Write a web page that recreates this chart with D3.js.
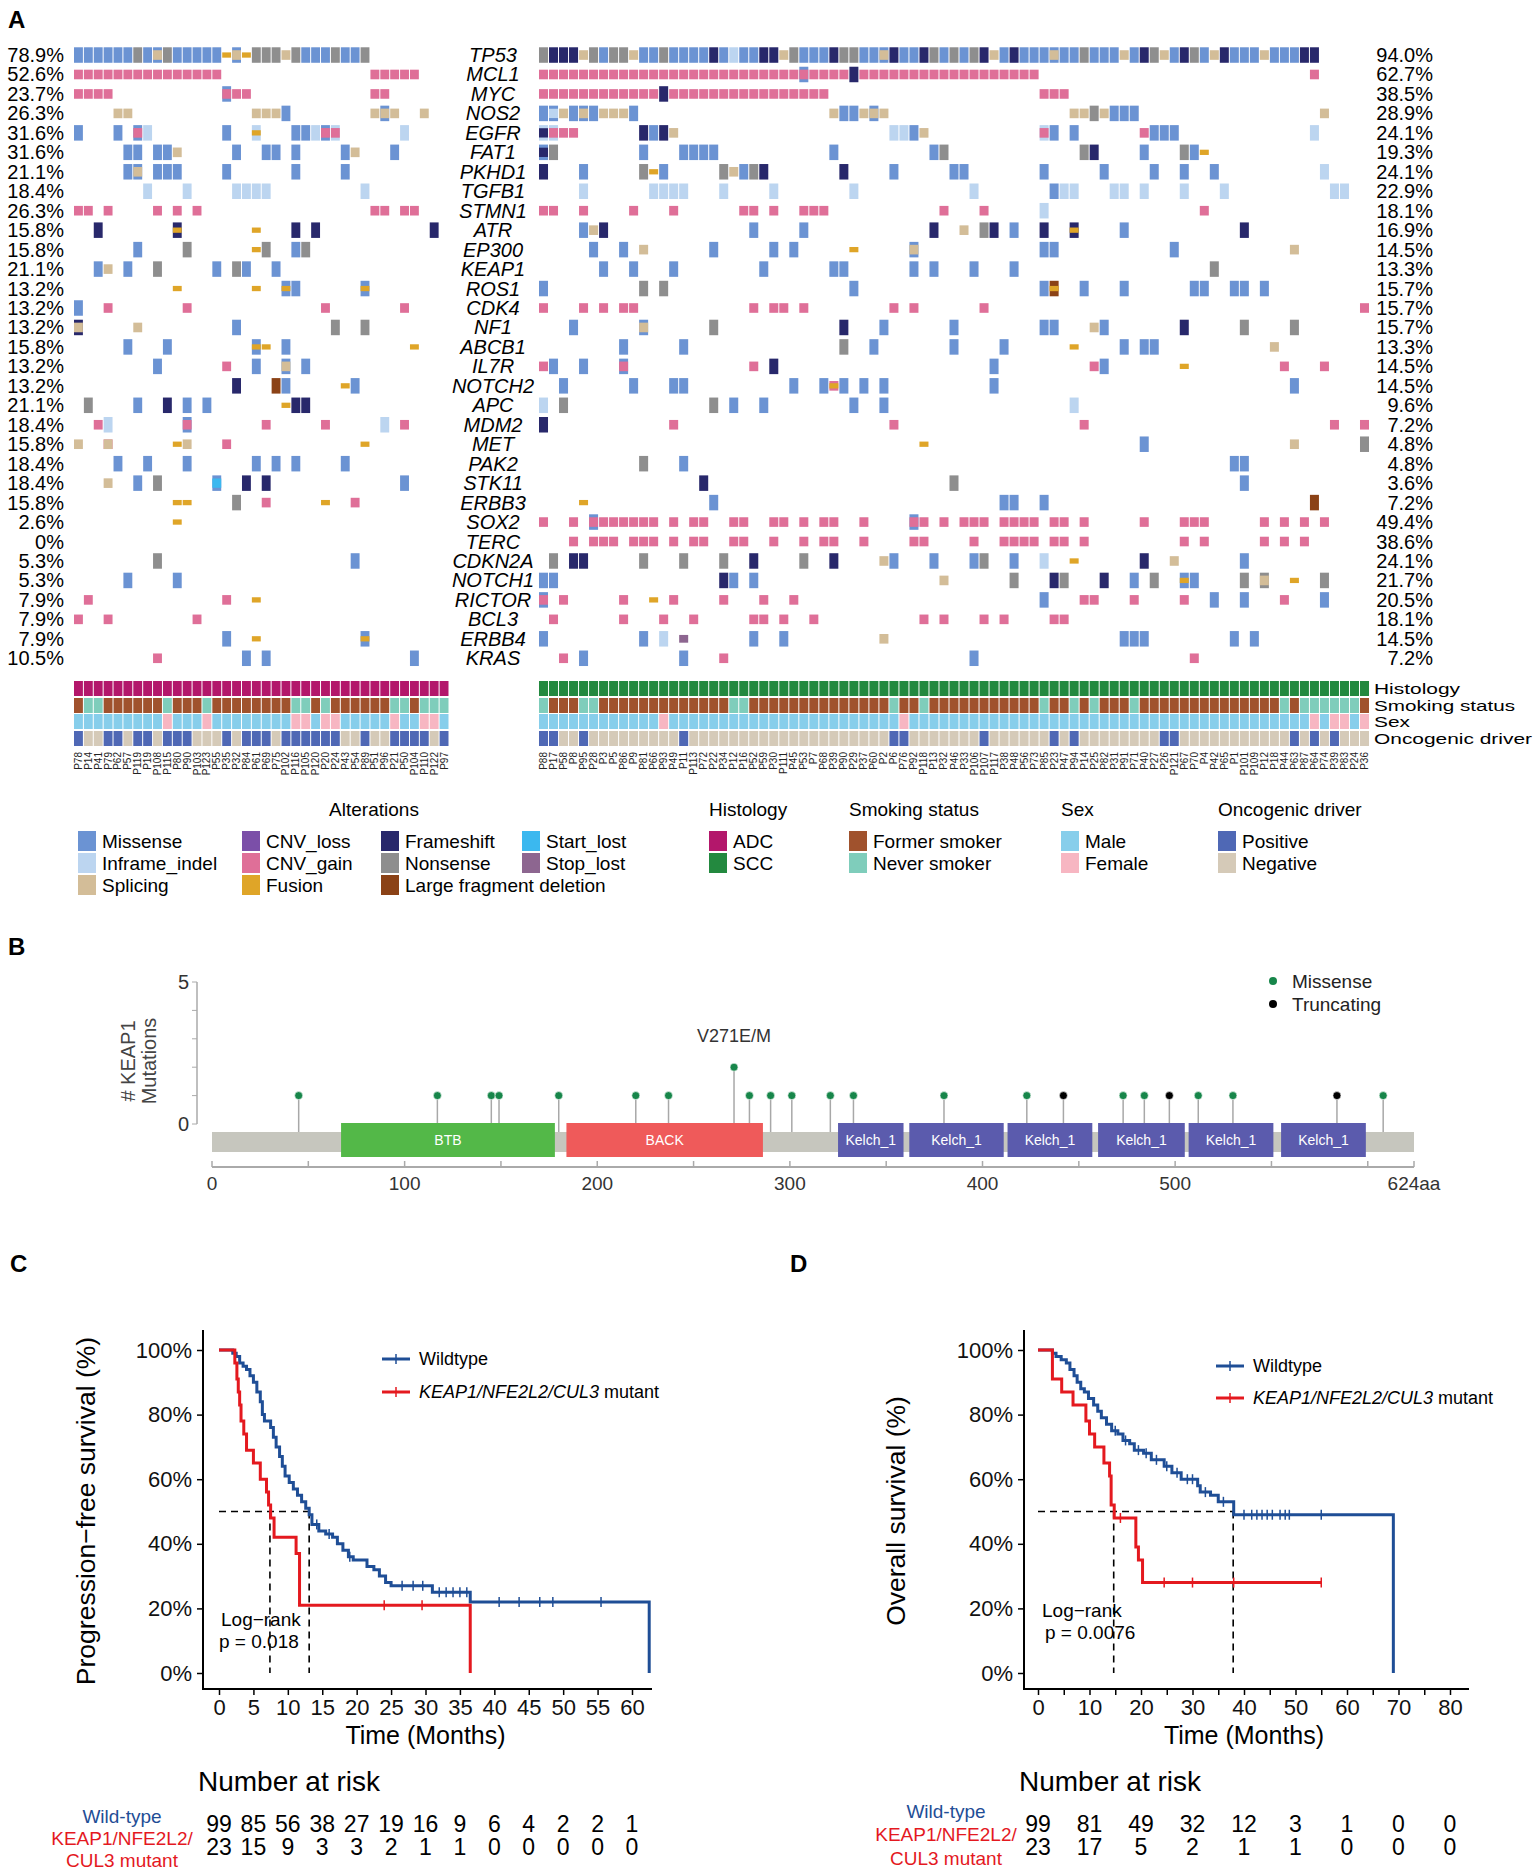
<!DOCTYPE html>
<html><head><meta charset="utf-8">
<script src="https://cdnjs.cloudflare.com/ajax/libs/d3/7.8.5/d3.min.js"></script>
<style>body{margin:0;background:#fff}svg text{font-family:"Liberation Sans",Arial,Helvetica,sans-serif}</style>
</head><body><svg id="chart" width="1535" height="1873"></svg>
<script>
// ---------------- DATA ----------------
const genes = ["TP53","MCL1","MYC","NOS2","EGFR","FAT1","PKHD1","TGFB1","STMN1","ATR","EP300","KEAP1","ROS1","CDK4","NF1","ABCB1","IL7R","NOTCH2","APC","MDM2","MET","PAK2","STK11","ERBB3","SOX2","TERC","CDKN2A","NOTCH1","RICTOR","BCL3","ERBB4","KRAS"];
const pctLeft = ["78.9%","52.6%","23.7%","26.3%","31.6%","31.6%","21.1%","18.4%","26.3%","15.8%","15.8%","21.1%","13.2%","13.2%","13.2%","15.8%","13.2%","13.2%","21.1%","18.4%","15.8%","18.4%","18.4%","15.8%","2.6%","0%","5.3%","5.3%","7.9%","7.9%","7.9%","10.5%"];
const pctRight = ["94.0%","62.7%","38.5%","28.9%","24.1%","19.3%","24.1%","22.9%","18.1%","16.9%","14.5%","13.3%","15.7%","15.7%","15.7%","13.3%","14.5%","14.5%","9.6%","7.2%","4.8%","4.8%","3.6%","7.2%","49.4%","38.6%","24.1%","21.7%","20.5%","18.1%","14.5%","7.2%"];

const leftPatients = ["P78","P14","P41","P79","P62","P57","P119","P19","P108","P115","P80","P90","P103","P123","P55","P35","P32","P84","P61","P69","P75","P102","P116","P105","P120","P20","P24","P43","P54","P89","P51","P96","P21","P50","P104","P110","P122","P97"];
const rightPatients = ["P88","P17","P58","P8","P95","P28","P3","P5","P86","P9","P81","P66","P93","P49","P11","P113","P72","P22","P34","P12","P16","P52","P59","P30","P111","P45","P53","P7","P68","P39","P90","P29","P37","P60","P2","P6","P76","P92","P118","P13","P32","P46","P33","P106","P107","P117","P38","P48","P56","P73","P85","P23","P47","P94","P14","P25","P82","P31","P91","P71","P40","P27","P26","P121","P67","P70","P4","P42","P65","P1","P101","P109","P12","P18","P44","P63","P87","P64","P74","P39","P83","P24","P36"];

// alteration codes: M Missense, I Inframe_indel, S Splicing, V CNV_loss, G CNV_gain, F Fusion,
// R Frameshift, N Nonsense, L Large fragment deletion, T Start_lost, P Stop_lost ; "a-bXY" = columns a..b
const altLeft = [
 "0-5M 6N 7M 8MS 9N 10-14M 15F 16MS 17F 18-20N 21S 22N 23-25M 26N 27-28M 29N",
 "0-14G 30-34G",
 "0-3G 15MG 16-17G 30-31G",
 "4-5S 18-20S 21M 30S 31MS 32S 35S",
 "0M 4M 6MG 7I 15M 18IF 22M 23M 24I 25MG 26IG 33I",
 "5-6M 8-9M 10S 16M 19-20M 22M 27M 28S 32M",
 "5M 6MS 8-10M 15M 22M 27M",
 "7I 11I 16-19I 29I",
 "0-1G 3G 8G 10G 12G 30-31G 33-34G",
 "2R 10RF 18F 22R 24R 36R",
 "6M 11N 18F 19N 22M 23N",
 "2M 3S 5M 8N 14M 16N 17M 20M",
 "10F 18F 21MF 22M 29MF",
 "0M 3G 11G 25G 33G",
 "0RS 6S 16M 26N 29N",
 "5M 9M 18MF 19F 21M 34F",
 "8M 15G 18M 21MS 23M",
 "16R 20L 21M 27F 28M",
 "1N 6M 9R 11M 13M 21F 22R 23R",
 "2G 3I 11MG 19G 25G 31I 33G",
 "0S 3GS 10F 11S 15G 29F",
 "4M 7M 11M 18M 20M 22M 27M",
 "3S 6M 8N 14MT 17R 19R 33M",
 "10F 11F 16N 19G 25F 28G",
 "10F",
 "",
 "8N 28M",
 "5M 10M",
 "1G 15G 18F",
 "0G 3G 12G",
 "15M 18F 29MF",
 "8G 17M 19M 34M"
];
const altRight = [
 "0N 1-3R 4S 5N 6M 7-8N 9S 10-11M 12N 13-16M 17R 18M 19I 20-21M 22-23R 24S 25N 26-28M 29R 30-31N 32-33M 34MS 35R 36-37M 38R 39N 40M 41N 42M 43N 44R 45S 46M 47R 48-50M 51MS 52-53M 54N 55-57M 58S 59M 60R 61N 62S 63M 64R 65N 66M 67S 68R 69-71M 72S 73-75M 76-77R",
 "0-25G 26MG 27-30G 31R 32-49G 77G",
 "0-11G 12R 13-28G 50-52G",
 "0M 1MI 2S 3M 4MS 5M 6-8S 9M 29S 30-31M 32S 33MS 34S 53-54S 55N 56S 57-59M 78S",
 "0IR 1IG 2-3G 10R 11M 12R 13S 35-36I 37M 38S 50IG 51M 53M 60G 61-63M 77I",
 "0MR 1N 10M 14-17M 29M 39M 40N 54N 55R 60M 64N 65M 66F",
 "0R 4M 10N 11F 12M 18N 19S 20M 21N 22R 30R 35M 41-42M 50M 56M 61M 64M 67M 78I",
 "4I 11-14I 18I 23I 31I 43I 51M 52-53I 57-58I 60I 64I 68I 79-80I",
 "0-1G 4G 9G 13G 20-21G 23G 26-28G 40G 44G 50I 66G",
 "4M 5S 6R 21M 26M 39R 42S 44N 45R 47M 50R 53RF 58M 70R",
 "5M 8M 10S 17M 23M 25M 31F 37MS 50-51M 63M 75S",
 "6M 9M 13M 22M 29-30M 37M 39M 43M 47M 67N",
 "0M 10N 12N 31M 50M 51LF 54M 58M 65-66M 69-70M 72M",
 "0G 4G 6G 8-9G 21G 23-24G 26G 35G 37G 44G 82G",
 "3M 10MS 17N 30R 34M 41M 50-51M 55S 56M 64R 70N 75N",
 "8M 14M 30N 33M 41M 46M 53F 58M 60-61M 73S",
 "0G 1M 4M 8MG 21G 23R 45M 55G 56M 64F 74G 78G",
 "2M 9M 13-14M 25M 28M 29GF 30M 32M 34M 45M 75M",
 "0I 2N 17N 19M 22M 31M 34M 53I",
 "0R 13G 35G 54G 79G 82G",
 "38F 60M 75S 82N",
 "10N 14M 69-70M",
 "16R 41N 70M",
 "4F 17M 46-47M 50M 77L",
 "0G 3G 5MG 6-11G 13G 15-16G 19-20G 23-24G 26G 28-29G 32G 37MG 38G 40G 42-44G 46-49G 51-52G 54G 60G 64-66G 72G 74G 76G 78G",
 "3G 5-7G 9-11G 13G 15-16G 19-20G 23G 26G 28-29G 32G 37-38G 43G 46-49G 51-52G 54G 64G 66G 72G 74G 76G",
 "1N 3-4R 10N 14N 18N 21R 26N 29R 34S 35M 39M 43M 44N 47M 50I 53F 60R 63S 70M",
 "0-1M 18R 19M 21M 40S 47N 51R 52N 56R 59M 61N 64MF 65M 70N 72NS 75F 78N",
 "0MG 2G 8G 11F 13G 18G 22G 25G 50M 54-55G 59G 64G 67M 70M 74G 78M",
 "1G 8G 12G 15G 21-22G 24G 27G 38G 40G 44G 46G 51-52G",
 "0M 10M 12I 14P 21M 24M 34S 58-60M 69M 71M",
 "2G 4M 14M 18G 43M 65G"
];

// clinical annotations (column indices)
const leftNever = [1,2,9,13,22,23,25,32,33,35,36,37];
const leftFemale = [9,13,22,23,25,26,32,35,36];
const leftPositive = [0,3,4,6,7,9,10,11,15,17,18,19,21,22,23,24,25,26,29,32,33,34,35,37];
const rightNever = [0,4,5,19,20,35,38,50,53,55,59,74,76,77,78,79,80,81];
const rightFemale = [12,36,77,79,80,82];
const rightPositive = [0,1,4,14,35,36,44,51,53,62,63,75,77,79];

// legend
const altNames = ["Missense","Inframe_indel","Splicing","CNV_loss","CNV_gain","Fusion","Frameshift","Nonsense","Large fragment deletion","Start_lost","Stop_lost"];
const altCodes = ["M","I","S","V","G","F","R","N","L","T","P"];
const annLabels = ["Histology","Smoking status","Sex","Oncogenic driver"];

// KEAP1 lollipop
const domainNames = ["BTB","BACK","Kelch_1","Kelch_1","Kelch_1","Kelch_1","Kelch_1","Kelch_1"];
const domainStart = [67,184,325,362,413,460,507,555];
const domainEnd = [178,286,359,411,457,505,551,599];
const mutPos = [45,117,145,149,180,220,237,271,279,290,301,321,333,380,423,442,473,484,497,512,530,584,608];
const mutCount = [1,1,1,1,1,1,1,2,1,1,1,1,1,1,1,1,1,1,1,1,1,1,1];
const mutClass = ["Missense","Missense","Missense","Missense","Missense","Missense","Missense","Missense","Missense","Missense","Missense","Missense","Missense","Missense","Missense","Truncating","Missense","Missense","Truncating","Missense","Missense","Truncating","Missense"];

// KM: progression-free survival
const pfsWildT = [0,2.0,2.5,3.0,3.5,4.0,4.5,5.0,5.5,6.0,6.3,6.6,7.5,7.9,8.3,8.8,9.2,9.6,10.2,10.8,11.4,12.0,12.6,13.1,13.5,14.5,15.5,16.5,17.2,18.0,18.8,19.5,21.5,22.5,23.3,24.2,25.0,31.0,36.5,62.5];
const pfsWildS = [100,99,98,96,95,94,92,90,87,84,80,78,76,73,70,67,64,61,59,57,55,53,51,49,46,44,43,42,40,38,36,35,33,32,30,28,27,25,22,0];
const pfsWildCensT = [14.2,16,19,26.6,28.2,29.6,32,33,34,35,36,40.7,43.6,46.6,48.5,55.5];
const pfsMutT = [0,2.3,2.6,2.8,3.0,3.2,3.6,4.0,5.0,6.0,6.9,7.2,7.5,8.0,11.2,11.7,36.5];
const pfsMutS = [100,96,91,87,83,78,74,69,65,60,56,52,48,42,37,21,0];
const pfsMutCensT = [24,29.5];
const pfsRiskT = [0,5,10,15,20,25,30,35,40,45,50,55,60];
const pfsRiskWild = [99,85,56,38,27,19,16,9,6,4,2,2,1];
const pfsRiskMut = [23,15,9,3,3,2,1,1,0,0,0,0,0];
const pfsMedians = [7.4,13.1];

// KM: overall survival
const osWildT = [0,2.8,3.5,4.5,5.5,6.2,7.0,7.6,8.3,9.0,9.8,10.8,11.6,12.3,13.3,14.3,15.5,16.5,17.8,18.7,20.5,22.0,24.5,26.0,27.8,31.0,31.5,33.5,35.0,38.0,69.0];
const osWildS = [100,99,98,97,96,94,92,90,88,87,85,83,81,79,77,75,74,72,71,69,68,66,64,62,60,58,56,55,53,49,0];
const osWildCensT = [15,17,19.5,21,23,25,27,29,30,32.5,36,40,41.5,42.5,43.5,44.5,45.5,47,48,48.8,55];
const osMutT = [0,2.8,4.6,6.8,9.3,10.0,11.0,12.8,13.9,14.2,14.8,19.0,19.5,20.3,55];
const osMutS = [100,91,87,83,78,74,70,65,61,52,48,39,35,28,28];
const osMutCensT = [16,24.5,30,38,55];
const osRiskT = [0,10,20,30,40,50,60,70,80];
const osRiskWild = [99,81,49,32,12,3,1,0,0];
const osRiskMut = [23,17,5,2,1,1,0,0,0];
const osMedians = [14.7,37.9];

// ---------------- STYLE ----------------
const altColor = {M:"#6b93d3",I:"#bcd5f0",S:"#d3bd98",V:"#7b4fa8",G:"#df6f98",F:"#dfa528",R:"#28286b",N:"#8e8e8e",L:"#8b4216",T:"#3bb8ef",P:"#8d6690"};
const altFrac = {M:1,I:1,S:0.62,V:0.62,G:0.62,F:0.34,R:1,N:1,L:1,T:1,P:0.5};
const annColors = {ADC:"#b3176b",SCC:"#23893f",Former:"#a0522d",Never:"#7fcdbb",Male:"#87ceeb",Female:"#f7b6c2",Pos:"#4f68b5",Neg:"#d5cab8"};
const BLUE = "#1f4e96", RED = "#e4191f";

const svg = d3.select("#chart");
svg.append("rect").attr("width",1535).attr("height",1873).attr("fill","#fff");

function parseRow(str, n) {
  const cells = Array.from({length:n}, () => []);
  if (!str) return cells;
  str.trim().split(/\s+/).forEach(tok => {
    const m = tok.match(/^(\d+)(?:-(\d+))?([A-Z]+)$/);
    if (!m) return;
    const a = +m[1], b = m[2] ? +m[2] : a;
    for (let c = a; c <= b; c++) if (c < n) cells[c] = m[3].split("");
  });
  return cells;
}

// ---------------- PANEL A ----------------
svg.append("text").attr("x",8).attr("y",28).attr("font-size",24).attr("font-weight","bold").text("A");
const yGene = d3.scaleBand().domain(genes).range([45.3, 668]);
const ROWH = 15.5;

function drawBlock(x0, x1, patients, rows, never, female, positive, histo) {
  const n = patients.length;
  const xs = d3.scaleBand().domain(d3.range(n)).range([x0, x1]).paddingInner(0.1);
  const g = svg.append("g");
  rows.forEach((r, gi) => {
    const cells = parseRow(r, n);
    const cy = yGene(genes[gi]) + yGene.bandwidth()/2;
    cells.forEach((codes, ci) => {
      codes.forEach((code, k) => {
        let h = ROWH * altFrac[code];
        if (k > 0 && altFrac[code] === 1) h = ROWH * 0.6;
        g.append("rect").attr("x", xs(ci)).attr("width", xs.bandwidth())
          .attr("y", cy - h/2).attr("height", h).attr("fill", altColor[code]);
      });
    });
  });
  const annY = [681, 698, 714, 731];
  d3.range(n).forEach(ci => {
    const cols = [
      annColors[histo],
      never.includes(ci) ? annColors.Never : annColors.Former,
      female.includes(ci) ? annColors.Female : annColors.Male,
      positive.includes(ci) ? annColors.Pos : annColors.Neg
    ];
    cols.forEach((c, k) => g.append("rect").attr("x", xs(ci)).attr("width", xs.bandwidth())
      .attr("y", annY[k]).attr("height", 15).attr("fill", c));
    g.append("text").attr("transform", `translate(${xs(ci)+xs.bandwidth()/2+3.5},752) rotate(-90)`)
      .attr("text-anchor","end").attr("font-size",10).attr("fill","#222").text(patients[ci]);
  });
}
drawBlock(74, 448.5, leftPatients, altLeft, leftNever, leftFemale, leftPositive, "ADC");
drawBlock(539, 1369, rightPatients, altRight, rightNever, rightFemale, rightPositive, "SCC");

genes.forEach((gname, gi) => {
  const cy = yGene(gname) + yGene.bandwidth()/2;
  svg.append("text").attr("x",64).attr("y",cy+7).attr("text-anchor","end").attr("font-size",20).text(pctLeft[gi]);
  svg.append("text").attr("x",1433).attr("y",cy+7).attr("text-anchor","end").attr("font-size",20).text(pctRight[gi]);
  svg.append("text").attr("x",493).attr("y",cy+7).attr("text-anchor","middle").attr("font-size",20)
    .attr("font-style","italic").text(gname);
});
const annLabelW = [86,141,36,158];
annLabels.forEach((t,i) => {
  svg.append("text").attr("x",1374).attr("y",[694,711,727,744][i]).attr("font-size",15.5)
    .attr("textLength",annLabelW[i]).attr("lengthAdjust","spacingAndGlyphs").text(t);
});

// legend
svg.append("text").attr("x",374).attr("y",816).attr("text-anchor","middle").attr("font-size",19).text("Alterations");
const legCols = [[0,1,2],[3,4,5],[6,7,8],[9,10]];
const legX = [78,242,381,522];
const legRowY = [841,863,885];
legCols.forEach((col, ci) => col.forEach((ai, ri) => {
  svg.append("rect").attr("x",legX[ci]).attr("y",legRowY[ri]-10).attr("width",18).attr("height",20).attr("fill",altColor[altCodes[ai]]);
  svg.append("text").attr("x",legX[ci]+24).attr("y",legRowY[ri]+7).attr("font-size",19).text(altNames[ai]);
}));
const annLegends = [
  {x:709, title:"Histology", items:[["ADC",annColors.ADC],["SCC",annColors.SCC]]},
  {x:849, title:"Smoking status", items:[["Former smoker",annColors.Former],["Never smoker",annColors.Never]]},
  {x:1061, title:"Sex", items:[["Male",annColors.Male],["Female",annColors.Female]]},
  {x:1218, title:"Oncogenic driver", items:[["Positive",annColors.Pos],["Negative",annColors.Neg]]}
];
annLegends.forEach(L => {
  svg.append("text").attr("x",L.x).attr("y",816).attr("font-size",19).text(L.title);
  L.items.forEach((it, ri) => {
    svg.append("rect").attr("x",L.x).attr("y",legRowY[ri]-10).attr("width",18).attr("height",20).attr("fill",it[1]);
    svg.append("text").attr("x",L.x+24).attr("y",legRowY[ri]+7).attr("font-size",19).text(it[0]);
  });
});

// ---------------- PANEL B ----------------
svg.append("text").attr("x",8).attr("y",955).attr("font-size",24).attr("font-weight","bold").text("B");
const xB = d3.scaleLinear().domain([0,624]).range([212,1414]);
const yB = d3.scaleLinear().domain([0,5]).range([1124,982]);
svg.append("line").attr("x1",197).attr("x2",197).attr("y1",yB(0)).attr("y2",yB(5)).attr("stroke","#aaa").attr("stroke-width",1.5);
d3.range(6).forEach(v => svg.append("line").attr("x1",192).attr("x2",197).attr("y1",yB(v)).attr("y2",yB(v)).attr("stroke","#aaa"));
[0,5].forEach(v => svg.append("text").attr("x",189).attr("y",yB(v)+7).attr("text-anchor","end").attr("font-size",20).attr("fill","#333").text(v));
svg.append("text").attr("transform","translate(135,1061) rotate(-90)").attr("text-anchor","middle").attr("font-size",20).attr("fill","#444").text("# KEAP1");
svg.append("text").attr("transform","translate(156,1061) rotate(-90)").attr("text-anchor","middle").attr("font-size",20).attr("fill","#444").text("Mutations");
mutPos.forEach((p,i) => svg.append("line").attr("x1",xB(p)).attr("x2",xB(p)).attr("y1",yB(mutCount[i])).attr("y2",1133).attr("stroke","#a8a8a8").attr("stroke-width",1.5));
svg.append("rect").attr("x",xB(0)).attr("width",xB(624)-xB(0)).attr("y",1132).attr("height",20).attr("fill","#c6c6be");
const domColor = {BTB:"#53b848",BACK:"#ef5a5a",Kelch_1:"#5b5bad"};
domainNames.forEach((d,i) => {
  svg.append("rect").attr("x",xB(domainStart[i])).attr("width",xB(domainEnd[i])-xB(domainStart[i])).attr("y",1123).attr("height",34).attr("fill",domColor[d]);
  svg.append("text").attr("x",(xB(domainStart[i])+xB(domainEnd[i]))/2).attr("y",1145).attr("text-anchor","middle").attr("font-size",14).attr("fill","#fff").text(d);
});
mutPos.forEach((p,i) => svg.append("circle").attr("cx",xB(p)).attr("cy",yB(mutCount[i])).attr("r",4)
  .attr("fill", mutClass[i]==="Missense" ? "#17864a" : "#000").attr("stroke","#fff").attr("stroke-width",0.6));
svg.append("text").attr("x",xB(271)).attr("y",1042).attr("text-anchor","middle").attr("font-size",18).attr("fill","#333").text("V271E/M");
svg.append("line").attr("x1",xB(0)).attr("x2",xB(624)).attr("y1",1167).attr("y2",1167).attr("stroke","#aaa").attr("stroke-width",2);
d3.range(0,625,50).concat([624]).forEach(v => svg.append("line").attr("x1",xB(v)).attr("x2",xB(v)).attr("y1",1161).attr("y2",1167).attr("stroke","#aaa").attr("stroke-width",1.5));
[0,100,200,300,400,500].forEach(v => svg.append("text").attr("x",xB(v)).attr("y",1190).attr("text-anchor","middle").attr("font-size",19).attr("fill","#333").text(v));
svg.append("text").attr("x",xB(624)).attr("y",1190).attr("text-anchor","middle").attr("font-size",19).attr("fill","#333").text("624aa");
svg.append("circle").attr("cx",1273).attr("cy",981).attr("r",4).attr("fill","#17864a");
svg.append("text").attr("x",1292).attr("y",988).attr("font-size",19).attr("fill","#222").text("Missense");
svg.append("circle").attr("cx",1273).attr("cy",1004).attr("r",4).attr("fill","#000");
svg.append("text").attr("x",1292).attr("y",1011).attr("font-size",19).attr("fill","#222").text("Truncating");

// ---------------- PANELS C, D ----------------
function drawKM(o) {
  svg.append("text").attr("x",o.labelX).attr("y",1272).attr("font-size",24).attr("font-weight","bold").text(o.label);
  const x = d3.scaleLinear().domain([0,o.maxT]).range([o.x0,o.x1]);
  const y = d3.scaleLinear().domain([0,100]).range([1673,1350]);
  const axY = 1689;
  const gx = svg.append("g").attr("transform",`translate(0,${axY})`)
    .call(d3.axisBottom(x).tickValues(d3.range(0,o.maxT+1,5)).tickSize(6).tickPadding(4)
      .tickFormat(d => d % o.labelStep === 0 ? d : ""));
  gx.select(".domain").remove();
  gx.selectAll(".tick line").attr("stroke","#000").attr("stroke-width",1.5);
  gx.selectAll(".tick text").attr("font-size",22).attr("fill","#111").style("font-family",'"Liberation Sans",Arial,sans-serif');
  svg.append("line").attr("x1",o.axL).attr("x2",o.axR).attr("y1",axY).attr("y2",axY).attr("stroke","#000").attr("stroke-width",2);
  const gy = svg.append("g").attr("transform",`translate(${o.axL},0)`)
    .call(d3.axisLeft(y).tickValues([0,20,40,60,80,100]).tickSize(6).tickPadding(5).tickFormat(d => d + "%"));
  gy.select(".domain").remove();
  gy.selectAll(".tick line").attr("stroke","#000").attr("stroke-width",1.5);
  gy.selectAll(".tick text").attr("font-size",22).attr("fill","#111").style("font-family",'"Liberation Sans",Arial,sans-serif');
  svg.append("line").attr("x1",o.axL).attr("x2",o.axL).attr("y1",1330).attr("y2",axY+1).attr("stroke","#000").attr("stroke-width",2);
  svg.append("text").attr("x",(o.x0+o.x1)/2).attr("y",1744).attr("text-anchor","middle").attr("font-size",25).text("Time (Months)");
  svg.append("text").attr("transform",`translate(${o.yTitleX},1511) rotate(-90)`).attr("text-anchor","middle").attr("font-size",26.5).text(o.yTitle);
  const ln = (x1,y1,x2,y2) => svg.append("line").attr("x1",x1).attr("y1",y1).attr("x2",x2).attr("y2",y2)
    .attr("stroke","#000").attr("stroke-width",1.6).attr("stroke-dasharray","7,5");
  ln(x(0), y(50), x(o.medians[1]), y(50));
  o.medians.forEach(m => ln(x(m), y(50), x(m), y(0)));
  const line = d3.line().x(d => x(d[0])).y(d => y(d[1])).curve(d3.curveStepAfter);
  const stepAt = (T,S,t) => { let s = S[0]; for (let i=0;i<T.length;i++) if (T[i] <= t) s = S[i]; return s; };
  [[o.wT,o.wS,o.wC,BLUE],[o.mT,o.mS,o.mC,RED]].forEach(([T,S,C,col]) => {
    svg.append("path").datum(T.map((t,i)=>[t,S[i]])).attr("d",line).attr("fill","none").attr("stroke",col).attr("stroke-width",3);
    C.forEach(t => { const s = stepAt(T,S,t);
      svg.append("line").attr("x1",x(t)).attr("x2",x(t)).attr("y1",y(s)-5).attr("y2",y(s)+5).attr("stroke",col).attr("stroke-width",1.5); });
  });
  [[BLUE,o.legY[0]],[RED,o.legY[1]]].forEach(([col,ly],i) => {
    svg.append("line").attr("x1",o.legX).attr("x2",o.legX+28).attr("y1",ly).attr("y2",ly).attr("stroke",col).attr("stroke-width",3);
    svg.append("line").attr("x1",o.legX+14).attr("x2",o.legX+14).attr("y1",ly-5).attr("y2",ly+5).attr("stroke",col).attr("stroke-width",1.5);
    const t = svg.append("text").attr("x",o.legX+37).attr("y",ly+6).attr("font-size",18);
    if (i===0) t.text("Wildtype");
    else { t.append("tspan").attr("font-style","italic").text("KEAP1/NFE2L2/CUL3"); t.append("tspan").text(" mutant"); }
  });
  svg.append("text").attr("x",o.lrX).attr("y",o.lrY).attr("font-size",19).text("Log\u2212rank");
  svg.append("text").attr("x",o.lrX+o.pIndent).attr("y",o.lrY+22).attr("font-size",19).text(o.p);
  svg.append("text").attr("x",o.nrX).attr("y",1791).attr("font-size",28).text("Number at risk");
  o.riskT.forEach((t,i) => {
    svg.append("text").attr("x",x(t)).attr("y",1832).attr("text-anchor","middle").attr("font-size",23).text(o.riskW[i]);
    svg.append("text").attr("x",x(t)).attr("y",1855).attr("text-anchor","middle").attr("font-size",23).text(o.riskM[i]);
  });
  svg.append("text").attr("x",o.rlX).attr("y",o.rlY[0]).attr("text-anchor","middle").attr("font-size",19).attr("fill",BLUE).text("Wild-type");
  svg.append("text").attr("x",o.rlX).attr("y",o.rlY[1]).attr("text-anchor","middle").attr("font-size",19).attr("fill",RED).text("KEAP1/NFE2L2/");
  svg.append("text").attr("x",o.rlX).attr("y",o.rlY[2]).attr("text-anchor","middle").attr("font-size",19).attr("fill",RED).text("CUL3 mutant");
}
drawKM({label:"C",labelX:10,maxT:60,x0:219,x1:632,axL:203,axR:652,labelStep:5,yTitleX:95,yTitle:"Progression\u2212free survival (%)",
  medians:pfsMedians,wT:pfsWildT,wS:pfsWildS,wC:pfsWildCensT,mT:pfsMutT,mS:pfsMutS,mC:pfsMutCensT,
  legX:382,legY:[1359,1392],lrX:221,lrY:1626,pIndent:-2,p:"p = 0.018",nrX:198,riskT:pfsRiskT,riskW:pfsRiskWild,riskM:pfsRiskMut,rlX:122,rlY:[1823,1845,1867]});
drawKM({label:"D",labelX:790,maxT:80,x0:1038,x1:1450,axL:1024,axR:1469,labelStep:10,yTitleX:905,yTitle:"Overall survival (%)",
  medians:osMedians,wT:osWildT,wS:osWildS,wC:osWildCensT,mT:osMutT,mS:osMutS,mC:osMutCensT,
  legX:1216,legY:[1366,1398],lrX:1042,lrY:1617,pIndent:3,p:"p = 0.0076",nrX:1019,riskT:osRiskT,riskW:osRiskWild,riskM:osRiskMut,rlX:946,rlY:[1818,1841,1865]});
</script></body></html>
